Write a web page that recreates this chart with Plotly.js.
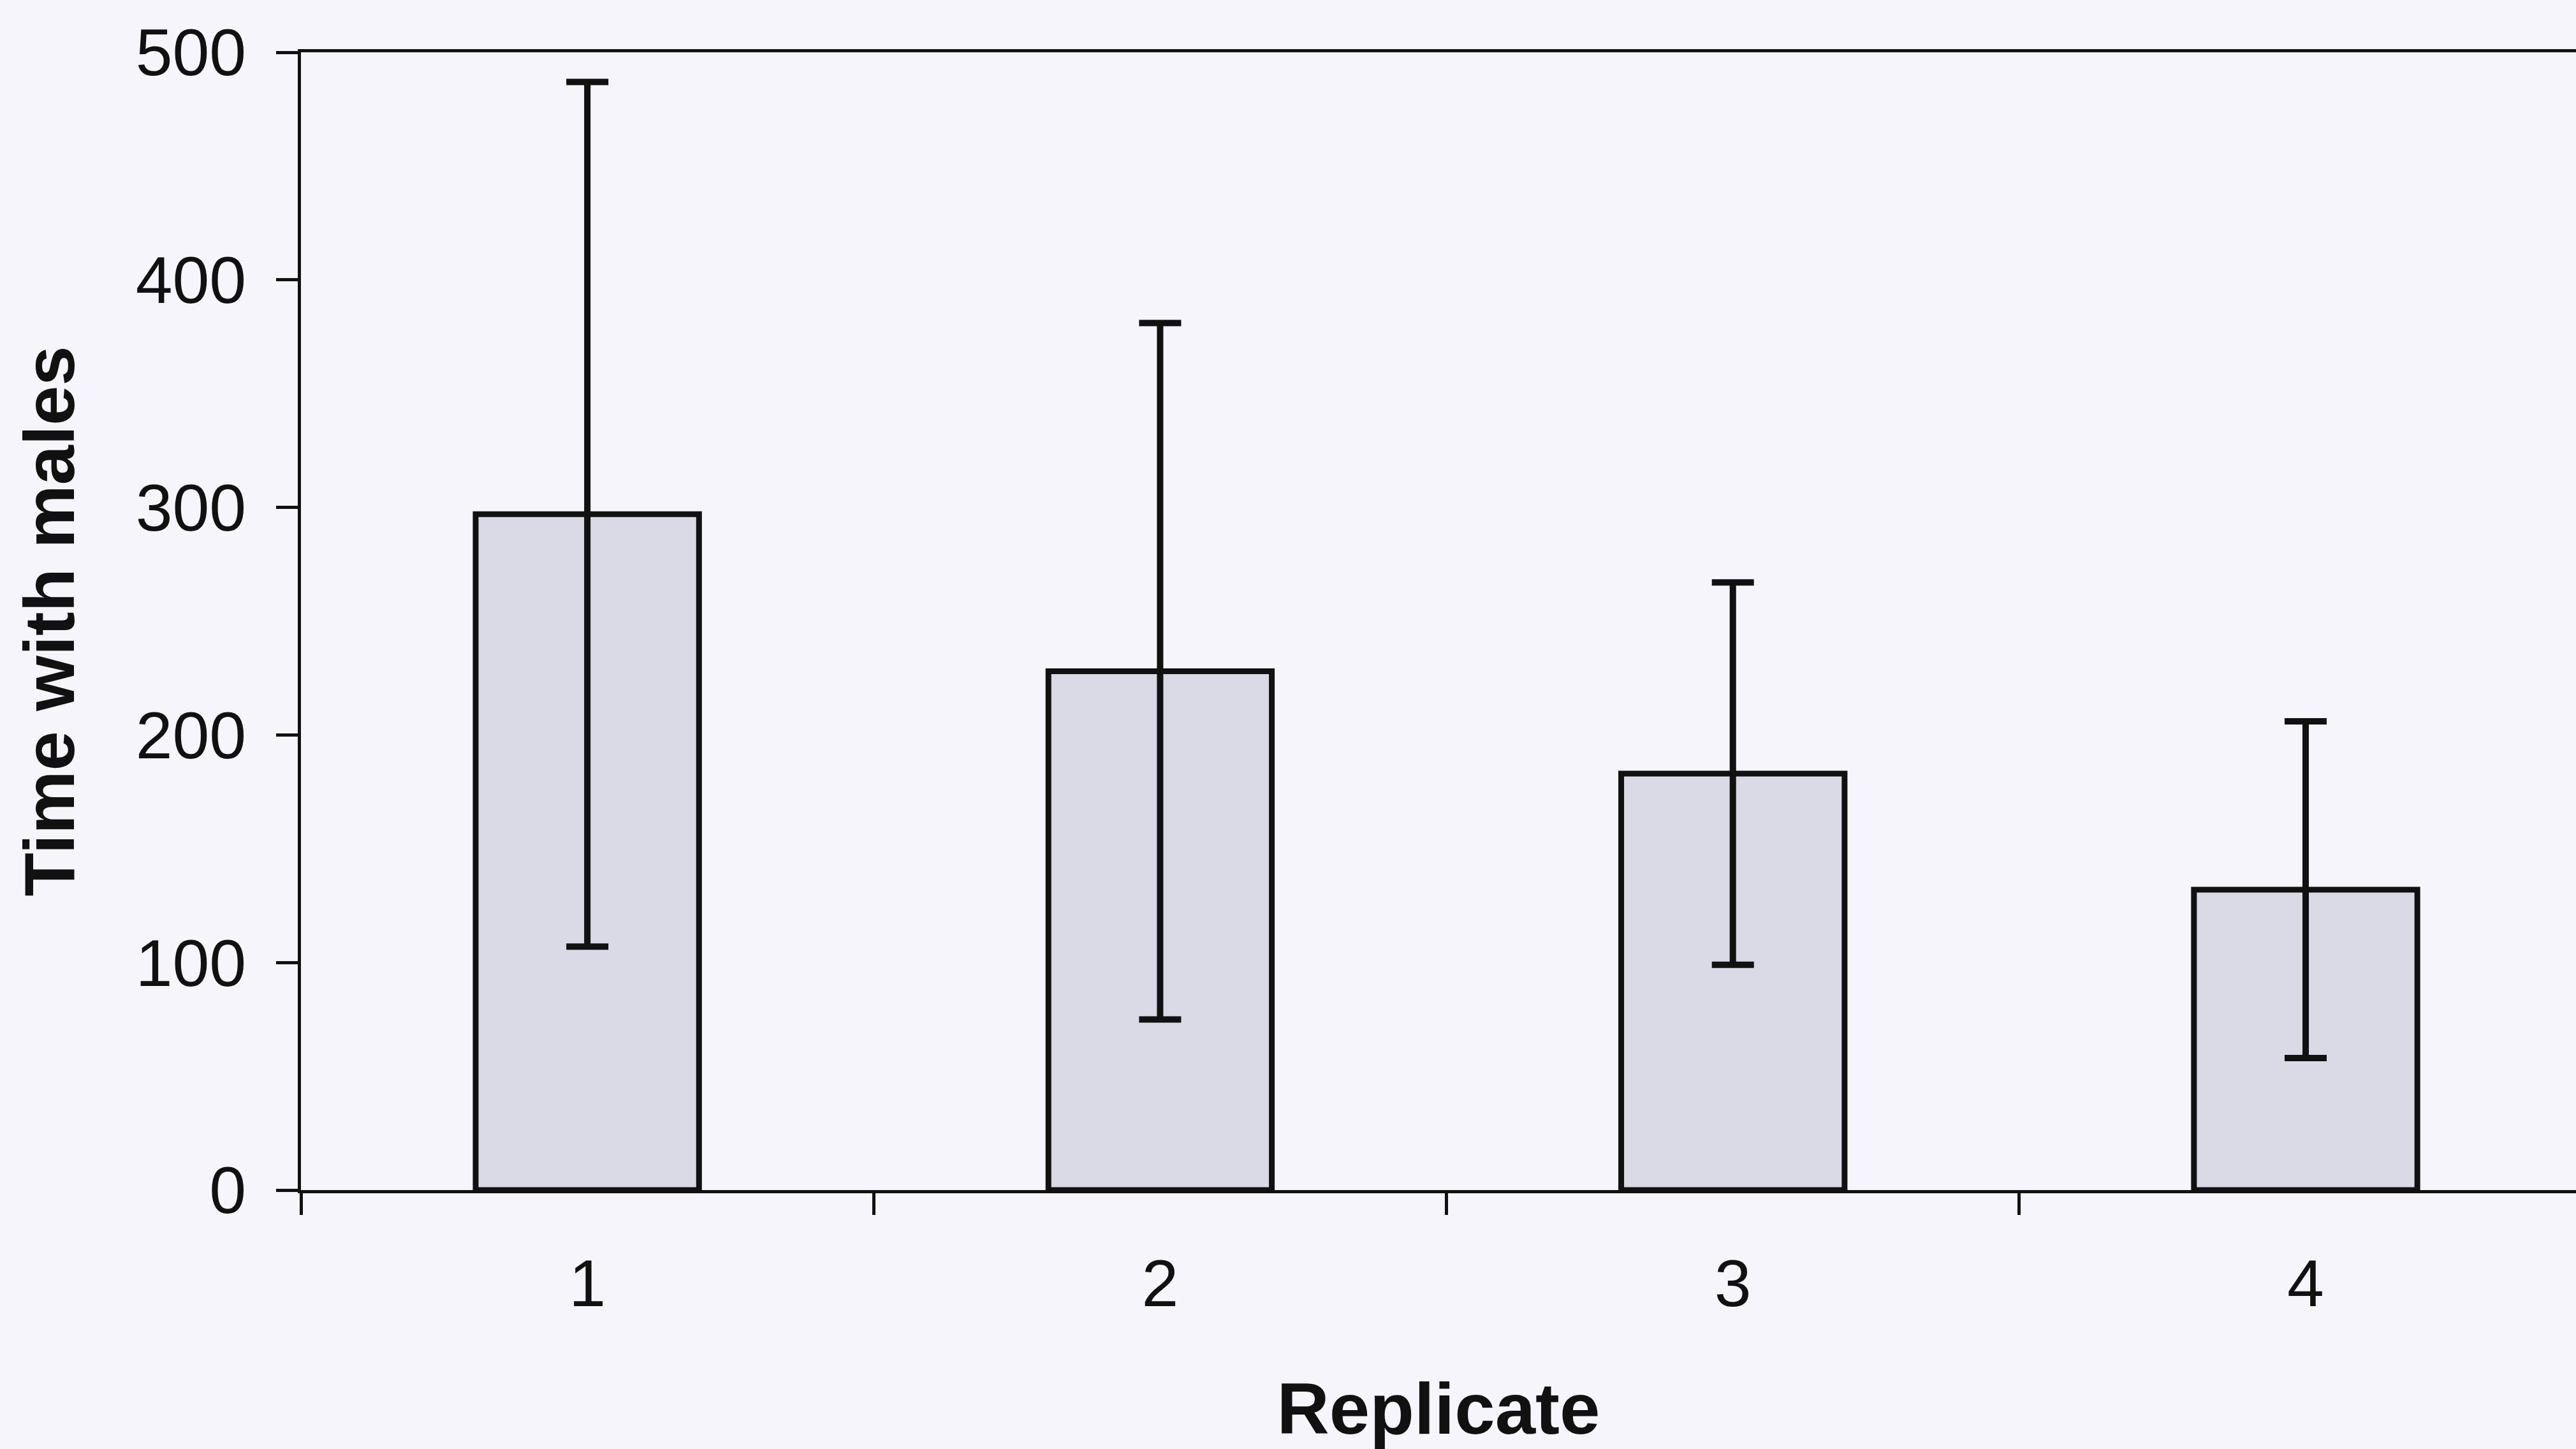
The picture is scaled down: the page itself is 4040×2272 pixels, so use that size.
<!DOCTYPE html>
<html>
<head>
<meta charset="utf-8">
<script src="https://cdn.plot.ly/plotly-3.0.1.min.js"></script>
<style>
html, body { margin: 0; padding: 0; background: #f5f5fb; overflow: hidden; }
#chart { width: 4040px; height: 2272px; }
</style>
</head>
<body>
<div id="chart"></div>
<script>
const replicates = ["1", "2", "3", "4"];
const timeWithMales = [297, 228, 183, 132];
const errorValues = [190, 153, 84, 74];
const yTickValues = [0, 100, 200, 300, 400, 500];

const trace = {
  type: "bar",
  x: replicates,
  y: timeWithMales,
  width: 0.39,
  marker: {
    color: "#d9dae5",
    line: { color: "#111111", width: 9 }
  },
  error_y: {
    type: "data",
    array: errorValues,
    symmetric: true,
    visible: true,
    color: "#111111",
    thickness: 10,
    width: 33
  },
  hoverinfo: "skip"
};

const layout = {
  width: 4040,
  height: 2272,
  margin: { l: 472, r: 0, t: 82, b: 406, pad: 0 },
  paper_bgcolor: "#f5f5fb",
  plot_bgcolor: "#f5f5fb",
  showlegend: false,
  font: { family: "Liberation Sans, Arial, sans-serif", color: "#111111" },
  xaxis: {
    type: "category",
    range: [-0.5, 3.472],
    tickson: "boundaries",
    ticks: "outside",
    ticklen: 34,
    tickwidth: 5,
    tickcolor: "#111111",
    showline: true,
    linecolor: "#111111",
    linewidth: 5,
    mirror: true,
    showgrid: false,
    zeroline: false,
    tickfont: { size: 104, family: "Liberation Sans, Arial, sans-serif", color: "#111111" },
    ticklabelstandoff: 52,
    title: {
      text: "<b>Replicate</b>",
      font: { size: 114, family: "Liberation Sans, Arial, sans-serif", color: "#111111" },
      standoff: 105
    },
    automargin: false,
    fixedrange: true
  },
  yaxis: {
    range: [0, 500],
    tickvals: yTickValues,
    ticks: "outside",
    ticklen: 34,
    tickwidth: 5,
    tickcolor: "#111111",
    showline: true,
    linecolor: "#111111",
    linewidth: 5,
    mirror: false,
    showgrid: false,
    zeroline: false,
    tickfont: { size: 104, family: "Liberation Sans, Arial, sans-serif", color: "#111111" },
    ticklabelstandoff: 26,
    title: {
      text: "<b>Time with males</b>",
      font: { size: 112, family: "Liberation Sans, Arial, sans-serif", color: "#111111" },
      standoff: 60
    },
    automargin: false,
    fixedrange: true
  }
};

Plotly.newPlot("chart", [trace], layout, { staticPlot: true, displayModeBar: false });
</script>
</body>
</html>
